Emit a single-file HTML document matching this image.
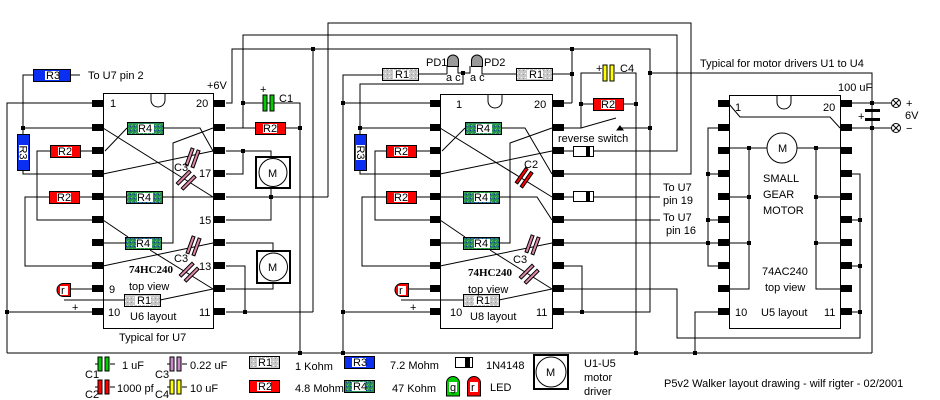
<!DOCTYPE html>
<html><head><meta charset="utf-8"><style>
body{margin:0;background:#fff;width:940px;height:400px;overflow:hidden}
svg{display:block}
text{font-family:"Liberation Sans",sans-serif;font-size:11px;fill:#000}
.s{font-family:"Liberation Serif",serif;font-weight:bold;font-size:11px}
</style></head><body>
<svg width="940" height="400" viewBox="0 0 940 400" xmlns="http://www.w3.org/2000/svg">
<defs>
<pattern id="gr" width="4" height="4" patternUnits="userSpaceOnUse"><rect width="4" height="4" fill="#c8c8c8"/><rect x="1" y="1" width="1" height="1" fill="#fff"/><rect x="3" y="2" width="1" height="1" fill="#999"/></pattern>
<pattern id="gn" width="4" height="4" patternUnits="userSpaceOnUse"><rect width="4" height="4" fill="#2a8a5a"/><rect x="0" y="0" width="1" height="1" fill="#40c040"/><rect x="2" y="2" width="1" height="1" fill="#1030a0"/><rect x="3" y="1" width="1" height="1" fill="#60d060"/></pattern>
</defs>
<g fill="none" stroke="#000" stroke-width="1">
<polyline points="328,197 328,23 691,23 691,174 564,174"/>
<polyline points="243,128 243,35 677,35 677,151 593,151"/>
<polyline points="226,103 232,103 232,49 650,49 650,312 582,312"/>
<line x1="313" y1="49" x2="313" y2="312"/>
<line x1="572" y1="49" x2="572" y2="103"/>
<line x1="572" y1="103" x2="564" y2="103"/>
<polyline points="650,73 872,73 872,353"/>
<line x1="7" y1="353" x2="872" y2="353"/>
<polyline points="92,103 7,103 7,353"/>
<line x1="7" y1="312" x2="92" y2="312"/>
<polyline points="33,75 23,75 23,134"/>
<line x1="70" y1="75" x2="80" y2="75"/>
<line x1="23" y1="128" x2="92" y2="128"/>
<polyline points="23,170 23,174 92,174"/>
<polyline points="50,151 37,151 37,220 92,220"/>
<line x1="80" y1="151" x2="92" y2="151"/>
<polyline points="49,197 25,197 25,266 92,266"/>
<line x1="79" y1="197" x2="92" y2="197"/>
<line x1="103" y1="197" x2="213" y2="197"/>
<line x1="103" y1="128" x2="213" y2="197"/>
<line x1="105" y1="151" x2="127" y2="128"/>
<polyline points="163,128 200,128 213,151"/>
<line x1="103" y1="174" x2="213" y2="151"/>
<line x1="103" y1="220" x2="128" y2="237"/>
<line x1="103" y1="243" x2="125" y2="243"/>
<polyline points="161,243 173,243 173,143 213,128"/>
<line x1="103" y1="266" x2="213" y2="243"/>
<line x1="150" y1="250" x2="213" y2="289"/>
<polyline points="92,289 64,289"/>
<polyline points="64,300 124,300"/>
<line x1="160" y1="300" x2="213" y2="289"/>
<line x1="226" y1="128" x2="300" y2="128"/>
<polyline points="243,103 300,103 300,353"/>
<polyline points="226,151 243,151 243,174 226,174"/>
<polyline points="243,151 271,151 271,157"/>
<polyline points="271,188 271,197"/>
<line x1="226" y1="197" x2="328" y2="197"/>
<polyline points="226,220 271,220 271,197"/>
<polyline points="226,243 273,243 273,250"/>
<polyline points="273,283 273,289 226,289"/>
<polyline points="226,266 245,266 245,312"/>
<line x1="226" y1="312" x2="313" y2="312"/>
<polyline points="430,103 343,103 343,353"/>
<polyline points="382,75 343,75 343,103"/>
<line x1="343" y1="312" x2="430" y2="312"/>
<polyline points="360,134 360,84 463,84 463,73"/>
<line x1="360" y1="128" x2="430" y2="128"/>
<polyline points="360,170 360,174 430,174"/>
<polyline points="386,151 375,151 375,220 430,220"/>
<line x1="416" y1="151" x2="430" y2="151"/>
<polyline points="386,197 362,197 362,266 430,266"/>
<line x1="416" y1="197" x2="430" y2="197"/>
<line x1="418" y1="74" x2="447" y2="74"/>
<polyline points="447,74 447,66"/><polyline points="458,66 458,73 470,73 470,66"/>
<polyline points="482,66 482,74 516,74"/>
<line x1="552" y1="74" x2="572" y2="74"/>
<line x1="440" y1="197" x2="499" y2="197"/>
<line x1="440" y1="128" x2="552" y2="197"/>
<line x1="442" y1="151" x2="465" y2="128"/>
<polyline points="501,128 525,128 552,174"/>
<line x1="440" y1="174" x2="552" y2="151"/>
<polyline points="499,197 537,197 552,220"/>
<line x1="440" y1="220" x2="465" y2="237"/>
<line x1="440" y1="243" x2="463" y2="243"/>
<polyline points="499,243 510,243 510,143 552,128"/>
<line x1="440" y1="266" x2="552" y2="243"/>
<line x1="490" y1="250" x2="552" y2="289"/>
<line x1="430" y1="289" x2="401" y2="289"/>
<line x1="401" y1="300" x2="463" y2="300"/>
<line x1="499" y1="300" x2="552" y2="289"/>
<polyline points="564,128 581,128 616,118"/>
<polyline points="581,128 581,73 601,73"/><polyline points="615,73 636,73 636,353"/>
<line x1="581" y1="104" x2="593" y2="104"/><line x1="623" y1="104" x2="636" y2="104"/>
<line x1="620" y1="128" x2="650" y2="128"/>
<line x1="564" y1="151" x2="573" y2="151"/>
<line x1="564" y1="197" x2="573" y2="197"/><line x1="593" y1="197" x2="660" y2="197"/>
<line x1="564" y1="220" x2="660" y2="220"/>
<line x1="564" y1="243" x2="718" y2="243"/>
<polyline points="564,266 582,266 582,312"/>
<polyline points="564,289 677,289 677,338 860,338 860,174 852,174"/>
<line x1="564" y1="312" x2="582" y2="312"/>
<polyline points="718,128 708,128 708,266 718,266"/>
<line x1="708" y1="174" x2="718" y2="174"/><line x1="708" y1="220" x2="718" y2="220"/>
<polyline points="718,312 695,312 695,353"/>
<line x1="852" y1="220" x2="860" y2="220"/><line x1="852" y1="266" x2="860" y2="266"/><line x1="852" y1="312" x2="860" y2="312"/>
<polyline points="729,104 740,117 830,117 840,128"/>
<line x1="729" y1="148" x2="767" y2="148"/><line x1="797" y1="148" x2="840" y2="148"/>
<polyline points="749,148 749,289 729,289"/>
<line x1="729" y1="197" x2="749" y2="197"/><line x1="729" y1="243" x2="749" y2="243"/>
<polyline points="816,148 816,289 840,289"/>
<line x1="816" y1="197" x2="840" y2="197"/><line x1="816" y1="243" x2="840" y2="243"/>
<line x1="852" y1="103" x2="892" y2="103"/><line x1="852" y1="128" x2="892" y2="128"/>
<line x1="872" y1="103" x2="872" y2="110"/><line x1="872" y1="120" x2="872" y2="128"/>
<circle cx="896" cy="103" r="4.5"/><circle cx="896" cy="128" r="4.5"/>
<path d="M893,100l6,6M899,100l-6,6M893,125l6,6M899,125l-6,6"/>
<rect x="103.5" y="93.5" width="110" height="235"/>
<rect x="440.5" y="94.5" width="112" height="234"/>
<rect x="729.5" y="95.5" width="111" height="233"/>
<path d="M151,94v6a7,7 0 0 0 14,0v-6M488,95v6a7,7 0 0 0 14,0v-6M777,96v6a7,7 0 0 0 14,0v-6" fill="#fff"/>
<rect x="256" y="157" width="34" height="31" stroke-width="2"/><circle cx="273" cy="172.5" r="14"/>
<rect x="257" y="251" width="33" height="32" stroke-width="2"/><circle cx="273.5" cy="267" r="14"/>
<circle cx="782" cy="148" r="15"/>
<path d="M617,130l3,-4l3,4z" fill="#000"/>
<path d="M95,364h5M110,364h5M95,387h5M110,387h5M167,364h5M182,364h5M167,387h5M182,387h5"/>
</g>
<g fill="#000">
<path id="pl" d="M92,100h11v7h-11zM92,124h11v7h-11zM92,147h11v7h-11zM92,170h11v7h-11zM92,193h11v7h-11zM92,216h11v7h-11zM92,239h11v7h-11zM92,262h11v7h-11zM92,285h11v7h-11zM92,308h11v7h-11z"/>
<use href="#pl" x="122"/><use href="#pl" x="338"/><use href="#pl" x="461"/><use href="#pl" x="626"/><use href="#pl" x="749"/>
<g>
<rect x="21" y="126" width="4" height="4"/><rect x="5" y="310" width="4" height="4"/><rect x="241" y="101" width="4" height="4"/><rect x="298" y="126" width="4" height="4"/><rect x="241" y="149" width="4" height="4"/><rect x="269" y="195" width="4" height="4"/><rect x="243" y="310" width="4" height="4"/><rect x="311" y="47" width="4" height="4"/><rect x="570" y="47" width="4" height="4"/><rect x="570" y="72" width="4" height="4"/><rect x="461" y="71" width="4" height="4"/><rect x="341" y="101" width="4" height="4"/><rect x="341" y="310" width="4" height="4"/><rect x="358" y="126" width="4" height="4"/><rect x="579" y="102" width="4" height="4"/><rect x="634" y="102" width="4" height="4"/><rect x="648" y="71" width="4" height="4"/><rect x="648" y="126" width="4" height="4"/><rect x="580" y="310" width="4" height="4"/><rect x="298" y="351" width="4" height="4"/><rect x="341" y="351" width="4" height="4"/><rect x="634" y="351" width="4" height="4"/><rect x="693" y="351" width="4" height="4"/><rect x="706" y="172" width="4" height="4"/><rect x="706" y="218" width="4" height="4"/><rect x="706" y="241" width="4" height="4"/><rect x="747" y="146" width="4" height="4"/><rect x="747" y="195" width="4" height="4"/><rect x="747" y="241" width="4" height="4"/><rect x="814" y="146" width="4" height="4"/><rect x="814" y="195" width="4" height="4"/><rect x="814" y="241" width="4" height="4"/><rect x="858" y="218" width="4" height="4"/><rect x="858" y="264" width="4" height="4"/><rect x="858" y="310" width="4" height="4"/><rect x="870" y="101" width="4" height="4"/><rect x="870" y="126" width="4" height="4"/>
</g>
<rect x="865" y="109" width="15" height="3"/><rect x="865" y="118" width="15" height="3"/>
</g>
<g stroke="#000" stroke-width="1">
<rect x="33.5" y="69.5" width="37" height="12" fill="#0a2ff0"/>
<rect x="17.5" y="134.5" width="12" height="36" fill="#0a2ff0"/>
<rect x="354.5" y="134.5" width="12" height="36" fill="#0a2ff0"/>
<rect x="50.5" y="145.5" width="30" height="12" fill="#f00"/><rect x="49.5" y="191.5" width="30" height="12" fill="#f00"/>
<rect x="255.5" y="122.5" width="30" height="12" fill="#f00"/>
<rect x="386.5" y="145.5" width="30" height="12" fill="#f00"/><rect x="386.5" y="191.5" width="30" height="12" fill="#f00"/>
<rect x="593.5" y="98.5" width="30" height="12" fill="#f00"/>
<rect x="127.5" y="122.5" width="36" height="12" fill="url(#gn)"/><rect x="126.5" y="191.5" width="36" height="12" fill="url(#gn)"/><rect x="125.5" y="237.5" width="36" height="12" fill="url(#gn)"/>
<rect x="465.5" y="122.5" width="36" height="12" fill="url(#gn)"/><rect x="463.5" y="191.5" width="36" height="12" fill="url(#gn)"/><rect x="463.5" y="237.5" width="36" height="12" fill="url(#gn)"/>
<rect x="124.5" y="294.5" width="36" height="12" fill="url(#gr)"/><rect x="463.5" y="294.5" width="36" height="12" fill="url(#gr)"/>
<rect x="382.5" y="68.5" width="36" height="12" fill="url(#gr)"/><rect x="516.5" y="68.5" width="36" height="12" fill="url(#gr)"/>
<rect x="249.5" y="356.5" width="30" height="12" fill="url(#gr)"/><rect x="249.5" y="380.5" width="30" height="12" fill="#f00"/>
<rect x="344.5" y="356.5" width="30" height="12" fill="#0a2ff0"/><rect x="344.5" y="380.5" width="30" height="12" fill="url(#gn)"/>
<rect x="573.5" y="146.5" width="20" height="10" fill="#fff"/><rect x="573.5" y="191.5" width="20" height="10" fill="#fff"/><rect x="455.5" y="357.5" width="17" height="10" fill="#fff"/>
<path d="M70.5,283.5v13h-7a6.5,6.5 0 0 1 0,-13z" fill="#f00"/>
<path d="M408.5,283.5v13h-7a6.5,6.5 0 0 1 0,-13z" fill="#f00"/>
<path d="M446.5,396v-13a6.5,6.5 0 0 1 13,0v13z" fill="#0c0"/>
<path d="M467.5,396v-13a6.5,6.5 0 0 1 13,0v13z" fill="#f00"/>
<path d="M447.5,66.5v-6a5.5,5.5 0 0 1 11,0v6z" fill="#999"/>
<path d="M471.5,66.5v-6a5.5,5.5 0 0 1 11,0v6z" fill="#999"/>
<rect x="263" y="95" width="4" height="16" fill="#0c0"/><rect x="270" y="95" width="4" height="16" fill="#0c0"/>
<rect x="603" y="65" width="4" height="16" fill="#ff0"/><rect x="610" y="65" width="4" height="16" fill="#ff0"/>
<rect x="98" y="357" width="4" height="14" fill="#0c0"/><rect x="105" y="357" width="4" height="14" fill="#0c0"/>
<rect x="98" y="380" width="4" height="14" fill="#f00"/><rect x="105" y="380" width="4" height="14" fill="#f00"/>
<rect x="170" y="357" width="4" height="14" fill="#c8c"/><rect x="177" y="357" width="4" height="14" fill="#c8c"/>
<rect x="170" y="380" width="4" height="14" fill="#ff0"/><rect x="177" y="380" width="4" height="14" fill="#ff0"/>
<g fill="#d8a"><rect x="-2" y="-9" width="3" height="18" transform="translate(190,157) rotate(20)"/><rect x="-2" y="-9" width="3" height="18" transform="translate(196,159) rotate(20)"/>
<rect x="-2" y="-9" width="3" height="18" transform="translate(184,178) rotate(45)"/><rect x="-2" y="-9" width="3" height="18" transform="translate(189,183) rotate(45)"/>
<rect x="-2" y="-9" width="3" height="18" transform="translate(191,245) rotate(20)"/><rect x="-2" y="-9" width="3" height="18" transform="translate(197,247) rotate(20)"/>
<rect x="-2" y="-9" width="3" height="18" transform="translate(187,270) rotate(45)"/><rect x="-2" y="-9" width="3" height="18" transform="translate(192,275) rotate(45)"/>
<rect x="-2" y="-9" width="3" height="18" transform="translate(530,244) rotate(20)"/><rect x="-2" y="-9" width="3" height="18" transform="translate(536,246) rotate(20)"/>
<rect x="-2" y="-9" width="3" height="18" transform="translate(527,272) rotate(45)"/><rect x="-2" y="-9" width="3" height="18" transform="translate(532,277) rotate(45)"/></g>
<g fill="#f00"><rect x="-2" y="-9" width="3" height="18" transform="translate(522,176) rotate(35)"/><rect x="-2" y="-9" width="3" height="18" transform="translate(527,180) rotate(35)"/></g>
<rect x="534" y="355" width="34" height="34" fill="#fff" stroke-width="2"/>
</g>
<g fill="#000"><rect x="586" y="146" width="4" height="11"/><rect x="586" y="191" width="4" height="11"/><rect x="465" y="357" width="5" height="11"/></g>
<circle cx="551" cy="372" r="15" fill="none" stroke="#000"/>
<g fill="#fff">
<rect x="45" y="71" width="14" height="9"/><rect x="19" y="145" width="9" height="15"/><rect x="356" y="145" width="9" height="15"/>
<rect x="58" y="147" width="14" height="9"/><rect x="57" y="193" width="14" height="9"/><rect x="263" y="124" width="14" height="9"/>
<rect x="394" y="147" width="14" height="9"/><rect x="394" y="193" width="14" height="9"/><rect x="601" y="100" width="14" height="9"/>
<rect x="138" y="124" width="16" height="9"/><rect x="137" y="193" width="16" height="9"/><rect x="136" y="239" width="16" height="9"/>
<rect x="476" y="124" width="16" height="9"/><rect x="474" y="193" width="16" height="9"/><rect x="474" y="239" width="16" height="9"/>
<rect x="135" y="296" width="16" height="9"/><rect x="474" y="296" width="16" height="9"/><rect x="393" y="70" width="16" height="9"/><rect x="527" y="70" width="16" height="9"/>
<rect x="257" y="358" width="14" height="9"/><rect x="257" y="382" width="14" height="9"/><rect x="352" y="358" width="14" height="9"/><rect x="352" y="382" width="14" height="9"/>
<rect x="60" y="286" width="8" height="9"/><rect x="398" y="286" width="8" height="9"/><rect x="449" y="382" width="8" height="10"/><rect x="470" y="382" width="8" height="10"/>
</g>
<g font-size="11">
<text x="46" y="79">R3</text><text x="88" y="79">To U7 pin 2</text>
<text x="23" y="156" text-anchor="middle" font-size="10" transform="rotate(90 23 152.5)">R3</text>
<text x="360.5" y="156" text-anchor="middle" font-size="10" transform="rotate(90 360.5 152.5)">R3</text>
<text x="58" y="155">R2</text><text x="57" y="201">R2</text><text x="263" y="132">R2</text>
<text x="394" y="155">R2</text><text x="394" y="201">R2</text><text x="601" y="108">R2</text>
<text x="138" y="132">R4</text><text x="137" y="201">R4</text><text x="136" y="247">R4</text>
<text x="476" y="132">R4</text><text x="474" y="201">R4</text><text x="474" y="247">R4</text>
<text x="137" y="304">R1</text><text x="476" y="304">R1</text><text x="395" y="78">R1</text><text x="529" y="78">R1</text>
<text x="61" y="294">r</text><text x="399" y="294">r</text>
<text x="110" y="107">1</text><text x="196" y="107">20</text><text x="199" y="177">17</text><text x="199" y="224">15</text><text x="199" y="270">13</text><text x="109" y="293">9</text><text x="108" y="316">10</text><text x="199" y="316">11</text>
<text class="s" x="129" y="273" font-size="10">74HC240</text><text x="129" y="290">top view</text><text x="130" y="320">U6 layout</text><text x="119" y="341">Typical for U7</text>
<text x="207" y="89">+6V</text><text x="260" y="93">+</text><text x="279" y="102">C1</text><text x="174" y="171">C3</text><text x="174" y="262">C3</text><text x="72" y="311">+</text>
<text x="456" y="108">1</text><text x="534" y="108">20</text><text class="s" x="468" y="276" font-size="10">74HC240</text><text x="468" y="293">top view</text><text x="450" y="316">10</text><text x="470" y="320">U8 layout</text><text x="536" y="316">11</text><text x="410" y="311">+</text>
<text x="524" y="168">C2</text><text x="513" y="263">C3</text>
<text x="426" y="66">PD1</text><text x="484" y="66">PD2</text><text x="446" y="81">a c</text><text x="470" y="81">a c</text>
<text x="596" y="72">+</text><text x="620" y="72">C4</text><text x="558" y="142">reverse switch</text>
<text x="663" y="191">To U7</text><text x="663" y="204">pin 19</text><text x="663" y="221">To U7</text><text x="666" y="234">pin 16</text>
<text x="700" y="67">Typical for motor drivers U1 to U4</text><text x="838" y="91">100 uF</text>
<text x="906" y="107">+</text><text x="905" y="119">6V</text><text x="906" y="132">−</text><text x="858" y="120">+</text>
<text x="735" y="111">1</text><text x="823" y="111">20</text><text x="778" y="152" font-size="10">M</text>
<text x="763" y="182">SMALL</text><text x="763" y="198">GEAR</text><text x="763" y="214">MOTOR</text>
<text x="762" y="275">74AC240</text><text x="765" y="291">top view</text><text x="735" y="316">10</text><text x="761" y="316">U5 layout</text><text x="824" y="316">11</text>
<text x="268" y="177" font-size="10">M</text><text x="268" y="271" font-size="10">M</text><text x="546" y="376" font-size="10">M</text>
<text x="85" y="378">C1</text><text x="122" y="369">1 uF</text><text x="85" y="398">C2</text><text x="117" y="392">1000 pf</text>
<text x="155" y="378">C3</text><text x="190" y="369">0.22 uF</text><text x="155" y="398">C4</text><text x="190" y="392">10 uF</text>
<text x="258" y="366">R1</text><text x="295" y="370">1 Kohm</text><text x="258" y="390">R2</text><text x="295" y="392">4.8 Mohm</text>
<text x="353" y="366">R3</text><text x="390" y="369">7.2 Mohm</text><text x="353" y="390">R4</text><text x="392" y="392">47 Kohm</text>
<text x="486" y="369">1N4148</text><text x="450" y="391">g</text><text x="471" y="391">r</text><text x="490" y="391">LED</text>
<text x="584" y="367">U1-U5</text><text x="584" y="381">motor</text><text x="584" y="395">driver</text>
<text x="664" y="387">P5v2 Walker layout drawing - wilf rigter - 02/2001</text>
</g>
</svg>
</body></html>
